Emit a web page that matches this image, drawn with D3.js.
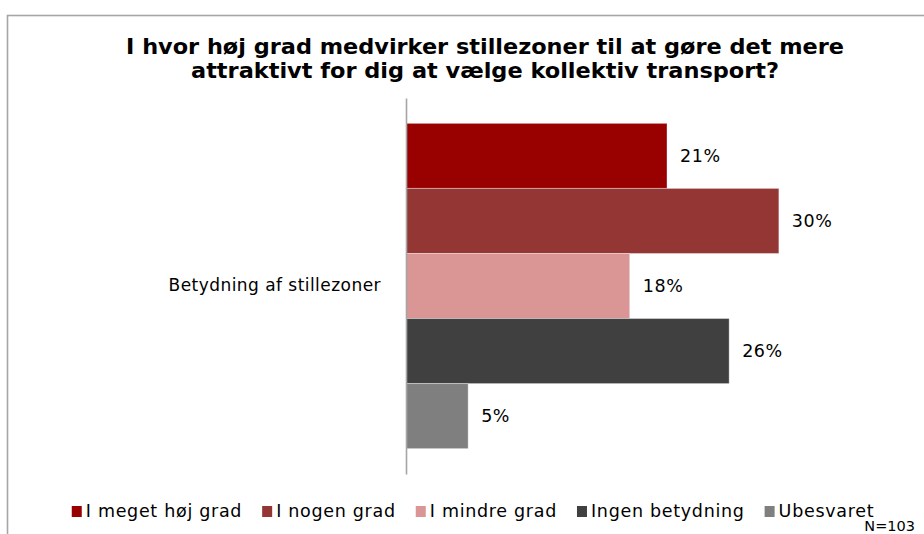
<!DOCTYPE html>
<html>
<head>
<meta charset="utf-8">
<script src="https://cdn.jsdelivr.net/npm/d3@7"></script>
<style>
	body { margin: 0; background: #fff; }
	text { font-family: "DejaVu Sans", Verdana, sans-serif; fill: #000; }
</style>
</head>
<body>
<div id="chart"></div>
<script>
const titleLines = [
	"I hvor høj grad medvirker stillezoner til at gøre det mere",
	"attraktivt for dig at vælge kollektiv transport?"
];
const categories = ["Betydning af stillezoner"];
const series = ["I meget høj grad", "I nogen grad", "I mindre grad", "Ingen betydning", "Ubesvaret"];
const values = [21, 30, 18, 26, 5];
const colors = ["#990000", "#943634", "#d99694", "#404040", "#7f7f7f"];
const note = "N=103";

const width = 924;
const height = 534;

const svg = d3.select("#chart")
	.append("svg")
	.attr("width", width)
	.attr("height", height);

// frame
svg.append("rect")
	.attr("x", 7.5)
	.attr("y", 15.5)
	.attr("width", 940)
	.attr("height", 540)
	.attr("fill", "none")
	.attr("stroke", "#a6a6a6")
	.attr("stroke-width", 1.6);

// title, stretched to the width it has in the original
const titleWidths = [718, 588];
svg.append("g")
	.selectAll("text")
	.data(titleLines)
	.join("text")
	.attr("x", 485)
	.attr("y", (d, i) => 53.5 + i * 24)
	.attr("text-anchor", "middle")
	.attr("font-size", 21)
	.attr("font-weight", "bold")
	.attr("textLength", (d, i) => titleWidths[i])
	.attr("lengthAdjust", "spacingAndGlyphs")
	.text(d => d);

const xScale = d3.scaleLinear().domain([0, 35]).range([406, 841]);
const yScale = d3.scaleBand().domain(categories).range([98, 474]);
const sScale = d3.scaleBand().domain(series).range([0, yScale.bandwidth()]).paddingOuter(0.39);

const rows = series.map((s, i) => ({ cat: categories[0], name: s, value: values[i], color: colors[i] }));

const plot = svg.append("g");

plot.selectAll("rect.bar")
	.data(rows)
	.join("rect")
	.attr("class", "bar")
	.attr("x", xScale(0))
	.attr("y", d => yScale(d.cat) + sScale(d.name))
	.attr("width", d => xScale(d.value) - xScale(0))
	.attr("height", sScale.bandwidth())
	.attr("fill", d => d.color)
	.attr("stroke", "#ffffff")
	.attr("stroke-opacity", 0.35)
	.attr("stroke-width", 1);

plot.selectAll("text.value")
	.data(rows)
	.join("text")
	.attr("class", "value")
	.attr("x", d => xScale(d.value) + 13)
	.attr("y", d => yScale(d.cat) + sScale(d.name) + sScale.bandwidth() / 2)
	.attr("dy", "0.36em")
	.attr("font-size", 17.5)
	.attr("letter-spacing", 0.6)
	.text(d => d.value + "%");

// category axis
const yAxis = d3.axisLeft(yScale).tickSize(0).tickPadding(25);
const axisG = svg.append("g")
	.attr("transform", `translate(${xScale(0)},0)`)
	.call(yAxis);
axisG.select(".domain").attr("stroke", "#a6a6a6").attr("stroke-width", 1.6);
axisG.selectAll(".tick text")
	.attr("font-size", 17)
	.attr("letter-spacing", 0.45)
	.attr("font-family", "DejaVu Sans, Verdana, sans-serif")
	.attr("fill", "#000");

// legend
const legend = svg.append("g");
const items = legend.selectAll("g")
	.data(rows)
	.join("g");
items.append("rect")
	.attr("width", 10)
	.attr("height", 11)
	.attr("y", -10.5)
	.attr("fill", d => d.color);
items.append("text")
	.attr("x", 14)
	.attr("font-size", 17.5)
	.attr("letter-spacing", 0.7)
	.text(d => d.name);

let pos = 0;
items.each(function () {
	const w = d3.select(this).select("text").node().getComputedTextLength();
	d3.select(this).attr("transform", `translate(${pos},516.5)`);
	pos += 14 + w + 20;
});
const legendWidth = pos - 20;
legend.attr("transform", `translate(${473 - legendWidth / 2},0)`);

svg.append("text")
	.attr("x", 915)
	.attr("y", 531)
	.attr("text-anchor", "end")
	.attr("font-family", "Liberation Sans, Arial, sans-serif")
	.attr("font-size", 14.5)
	.text(note);
</script>
</body>
</html>
